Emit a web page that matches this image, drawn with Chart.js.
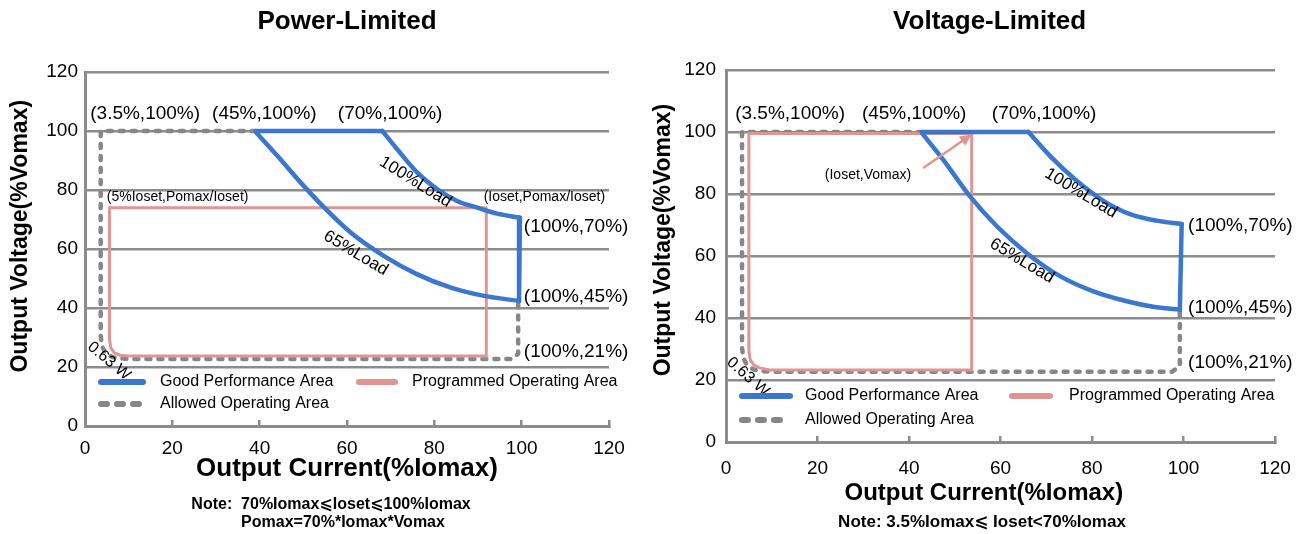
<!DOCTYPE html>
<html>
<head>
<meta charset="utf-8">
<script src="https://cdn.jsdelivr.net/npm/chart.js@4.4.1/dist/chart.umd.min.js"></script>
<style>
  html, body { margin: 0; padding: 0; background: #fff; }
  #wrap { position: relative; width: 1309px; height: 534px; overflow: hidden; }
  .box { position: absolute; top: 0; height: 534px; }
  #leftBox { left: 0; width: 640px; }
  #rightBox { left: 640px; width: 669px; }
</style>
</head>
<body>
<div id="wrap">
  <div class="box" id="leftBox"><canvas id="powerChart"></canvas></div>
  <div class="box" id="rightBox"><canvas id="voltageChart"></canvas></div>
</div>
<script>
// ---- Power-Limited data (I = %Iomax, V = %Vomax) ----
const plTopI = [39.1, 68.1];
const plTopV = [100, 100];
const plLoad100I = [68.1, 71.5, 76.1, 80.7, 85.3, 89.9, 94.4, 99.6];
const plLoad100V = [100, 93.8, 85.9, 80.2, 76.2, 74.0, 72.0, 70.6];
const plEdgeI = [99.6, 99.4];
const plEdgeV = [70.6, 42.4];
const plLoad65I = [39.1, 44.1, 49.4, 54.8, 60.9, 68.5, 76.1, 83.8, 91.4, 99.4];
const plLoad65V = [99.7, 91.5, 82.5, 74.0, 65.5, 57.6, 51.4, 46.9, 44.1, 42.4];
const plAllowedI = [39.1, 3.6, 3.6, 3.9, 4.7, 6.2, 8.2, 10.5, 97.7, 99.2, 99.2];
const plAllowedV = [100, 100, 30.5, 27, 24.8, 23.4, 22.9, 22.7, 22.7, 24.5, 43];
const plProgramI = [5.6, 5.6, 5.9, 6.7, 8, 10, 91.9, 91.9, 5.6];
const plProgramV = [74, 29.5, 26.5, 24.8, 24, 23.7, 23.7, 74, 74];

// ---- Voltage-Limited data ----
const vlTopI = [42.8, 66.1];
const vlTopV = [100, 100];
const vlLoad100I = [66.1, 70.8, 76.7, 82.5, 88.3, 94.1, 99.6];
const vlLoad100V = [100, 92.3, 84.2, 77.8, 73.5, 71.4, 70.3];
const vlEdgeI = [99.6, 99.2];
const vlEdgeV = [70.3, 42.7];
const vlLoad65I = [42.8, 47.5, 53.3, 59.2, 65.7, 73.0, 80.3, 87.6, 93.4, 99.2];
const vlLoad65V = [99.7, 91.0, 79.3, 69.6, 61.0, 53.5, 48.6, 45.4, 43.6, 42.7];
const vlAllowedI = [42.8, 3.5, 3.5, 3.8, 4.6, 6, 7.8, 9.8, 97.5, 99.2, 99.2];
const vlAllowedV = [100, 100, 30.5, 27, 24.8, 23.4, 22.9, 22.7, 22.7, 24.5, 43];
const vlProgramI = [5, 5, 5.3, 6.1, 7.4, 9.5, 53.7, 53.7, 5];
const vlProgramV = [99.5, 29.5, 26.5, 24.8, 23.9, 23.2, 23.2, 99.5, 99.5];
const vlArrowI = [43.1, 53.7];
const vlArrowV = [88.4, 99.2];

const axisMin = 0;
const axisMax = 120;
const axisStep = 20;

const FONT = "'Liberation Sans', Arial, 'DejaVu Sans', sans-serif";
const BLUE = '#3B77CF';
const PINK = '#DF9592';
const GRAY = '#878787';
const GRID = '#8C8C8C';

Chart.defaults.font.family = FONT;
Chart.defaults.color = '#000';

function pts(xs, ys) {
  return xs.map((x, i) => ({ x: x, y: ys[i] }));
}

function line(label, xs, ys, color, width, curved, dash) {
  return {
    label: label,
    data: pts(xs, ys),
    showLine: true,
    borderColor: color,
    backgroundColor: color,
    borderWidth: width,
    borderDash: dash || [],
    borderCapStyle: 'round',
    borderJoinStyle: 'round',
    pointRadius: 0,
    cubicInterpolationMode: curved ? 'monotone' : 'default',
    tension: 0,
    fill: false
  };
}

// draws the text notes, arrow, legend inside the plot
const figureText = {
  id: 'figureText',
  afterDatasetsDraw(chart, args, opts) {
    const ctx = chart.ctx;
    const xs = chart.scales.x;
    const ys = chart.scales.y;
    const area = chart.chartArea;
    ctx.save();

    if (opts.arrow) {
      const x1 = xs.getPixelForValue(opts.arrow.i[0]);
      const y1 = ys.getPixelForValue(opts.arrow.v[0]);
      const x2 = xs.getPixelForValue(opts.arrow.i[1]);
      const y2 = ys.getPixelForValue(opts.arrow.v[1]);
      const a = Math.atan2(y2 - y1, x2 - x1);
      ctx.strokeStyle = PINK;
      ctx.fillStyle = PINK;
      ctx.lineWidth = 2.5;
      ctx.beginPath();
      ctx.moveTo(x1, y1);
      ctx.lineTo(x2 - 8 * Math.cos(a), y2 - 8 * Math.sin(a));
      ctx.stroke();
      ctx.beginPath();
      ctx.moveTo(x2, y2);
      ctx.lineTo(x2 - 13 * Math.cos(a - 0.45), y2 - 13 * Math.sin(a - 0.45));
      ctx.lineTo(x2 - 13 * Math.cos(a + 0.45), y2 - 13 * Math.sin(a + 0.45));
      ctx.closePath();
      ctx.fill();
    }

    ctx.fillStyle = '#000';
    ctx.textBaseline = 'middle';
    for (const lb of opts.labels) {
      ctx.save();
      ctx.translate(xs.getPixelForValue(lb.i), ys.getPixelForValue(lb.v));
      ctx.rotate((lb.angle || 0) * Math.PI / 180);
      ctx.font = (lb.size || 19) + 'px ' + FONT;
      ctx.textAlign = lb.angle ? 'center' : 'left';
      ctx.fillText(lb.text, 0, 0);
      ctx.restore();
    }

    // legend
    const lg = opts.legend;
    ctx.font = '16px ' + FONT;
    ctx.textAlign = 'left';
    for (const it of lg.items) {
      const ds = chart.data.datasets.find(d => d.label === it.label);
      const y = area.bottom - it.up;
      ctx.save();
      ctx.strokeStyle = ds.borderColor;
      ctx.lineWidth = 6;
      ctx.lineCap = 'round';
      ctx.setLineDash(it.dash || []);
      ctx.beginPath();
      ctx.moveTo(area.left + it.x0, y);
      ctx.lineTo(area.left + it.x1, y);
      ctx.stroke();
      ctx.restore();
      ctx.fillText(it.label, area.left + it.tx, y);
    }

    // notes under the axis title
    ctx.font = 'bold ' + opts.noteSize + 'px ' + FONT;
    ctx.textAlign = 'center';
    for (const n of opts.notes) {
      ctx.fillText(n.text, n.x, n.y);
    }
    ctx.restore();
  }
};

function buildChart(id, s) {
  return new Chart(document.getElementById(id), {
    type: 'scatter',
    data: {
      datasets: [
        line('Good Performance Area', s.topI, s.topV, BLUE, 4.5, false),
        line('load100', s.load100I, s.load100V, BLUE, 4.5, true),
        line('edge', s.edgeI, s.edgeV, BLUE, 4.5, false),
        line('load65', s.load65I, s.load65V, BLUE, 4.5, true),
        line('Programmed Operating Area', s.programI, s.programV, PINK, 3, false),
        line('Allowed Operating Area', s.allowedI, s.allowedV, GRAY, 4.5, false, [4, 8])
      ]
    },
    options: {
      responsive: true,
      maintainAspectRatio: false,
      animation: false,
      layout: {
        autoPadding: false,
        padding: { left: 0, right: s.padRight, top: 0, bottom: s.padBottom }
      },
      plugins: {
        legend: { display: false },
        tooltip: { enabled: false },
        title: {
          display: true,
          text: s.title,
          fullSize: false,
          color: '#000',
          font: { size: 26, weight: 'bold' },
          padding: { top: 6.4, bottom: s.titleGap }
        },
        figureText: {
          labels: s.labels,
          arrow: s.arrow,
          notes: s.notes,
          noteSize: s.noteSize,
          legend: s.legend
        }
      },
      scales: {
        x: {
          type: 'linear',
          min: axisMin,
          max: axisMax,
          ticks: { stepSize: axisStep, color: '#000', font: { size: 19 }, padding: s.xTickPad },
          grid: { display: true, drawOnChartArea: false, drawTicks: true, tickLength: -6, color: GRID, lineWidth: 2.5 },
          border: { display: true, color: GRID, width: 3 },
          title: {
            display: true,
            text: s.xTitle,
            color: '#000',
            font: { size: s.xTitleSize, weight: 'bold' },
            padding: 0
          },
          afterFit(scale) {
            scale.height = s.xHeight;
            scale.paddingLeft = 0;
            scale.paddingRight = 0;
          }
        },
        y: {
          type: 'linear',
          min: axisMin,
          max: axisMax,
          ticks: { stepSize: axisStep, color: '#000', font: { size: 19 }, padding: s.yTickPad },
          grid: { color: GRID, lineWidth: 2.5, drawTicks: false },
          border: { display: true, color: GRID, width: 3 },
          title: {
            display: true,
            text: s.yTitle,
            color: '#000',
            font: { size: 23, weight: 'bold' },
            padding: { top: s.yTitlePad, bottom: 0 }
          },
          afterFit(scale) {
            scale.width = s.yWidth;
            scale.paddingTop = 0;
            scale.paddingBottom = 0;
          }
        }
      }
    },
    plugins: [figureText]
  });
}

buildChart('powerChart', {
  title: 'Power-Limited',
  xTitle: 'Output Current(%Iomax)',
  xTitleSize: 26,
  yTitle: '    Output Voltage(%Vomax)',
  topI: plTopI, topV: plTopV,
  load100I: plLoad100I, load100V: plLoad100V,
  edgeI: plEdgeI, edgeV: plEdgeV,
  load65I: plLoad65I, load65V: plLoad65V,
  programI: plProgramI, programV: plProgramV,
  allowedI: plAllowedI, allowedV: plAllowedV,
  padRight: 31, padBottom: 50, titleGap: 34.4,
  xHeight: 58, xTickPad: 17,
  yWidth: 85, yTickPad: 7, yTitlePad: 7.2,
  labels: [
    { text: '(3.5%,100%)', i: 1.2, v: 106 },
    { text: '(45%,100%)', i: 29.1, v: 106 },
    { text: '(70%,100%)', i: 57.9, v: 106 },
    { text: '(5%Ioset,Pomax/Ioset)', i: 5.0, v: 77.6, size: 14 },
    { text: '(Ioset,Pomax/Ioset)', i: 91.3, v: 77.6, size: 14 },
    { text: '(100%,70%)', i: 100.5, v: 67.5 },
    { text: '(100%,45%)', i: 100.5, v: 43.7 },
    { text: '(100%,21%)', i: 100.5, v: 25 },
    { text: '100%Load', i: 75.7, v: 82.7, angle: 32, size: 17 },
    { text: '65%Load', i: 62, v: 58.6, angle: 31, size: 17 },
    { text: '0.63 W', i: 5.5, v: 22, angle: 40, size: 16 }
  ],
  legend: {
    items: [
      { label: 'Good Performance Area', up: 44, x0: 16, x1: 58, tx: 75 },
      { label: 'Programmed Operating Area', up: 44, x0: 274, x1: 310, tx: 327 },
      { label: 'Allowed Operating Area', up: 22, x0: 16, x1: 58, tx: 75, dash: [6, 10] }
    ]
  },
  noteSize: 16,
  notes: [
    { text: 'Note:  70%Iomax⩽Ioset⩽100%Iomax', x: 331, y: 505 },
    { text: 'Pomax=70%*Iomax*Vomax', x: 343, y: 523 }
  ]
});

buildChart('voltageChart', {
  title: 'Voltage-Limited   ',
  xTitle: 'Output Current(%Iomax)     ',
  xTitleSize: 24,
  yTitle: '     Output Voltage(%Vomax)',
  topI: vlTopI, topV: vlTopV,
  load100I: vlLoad100I, load100V: vlLoad100V,
  edgeI: vlEdgeI, edgeV: vlEdgeV,
  load65I: vlLoad65I, load65V: vlLoad65V,
  programI: vlProgramI, programV: vlProgramV,
  allowedI: vlAllowedI, allowedV: vlAllowedV,
  padRight: 34, padBottom: 26, titleGap: 32.4,
  xHeight: 66, xTickPad: 21,
  yWidth: 86, yTickPad: 10, yTitlePad: 10.2,
  arrow: { i: vlArrowI, v: vlArrowV },
  labels: [
    { text: '(3.5%,100%)', i: 2.0, v: 105.8 },
    { text: '(45%,100%)', i: 29.7, v: 105.8 },
    { text: '(70%,100%)', i: 58.1, v: 105.8 },
    { text: '(Ioset,Vomax)', i: 21.6, v: 86.1, size: 14 },
    { text: '(100%,70%)', i: 101, v: 69.7 },
    { text: '(100%,45%)', i: 101, v: 43.2 },
    { text: '(100%,21%)', i: 101, v: 25.5 },
    { text: '100%Load', i: 77.6, v: 80.3, angle: 31, size: 17 },
    { text: '65%Load', i: 64.7, v: 58.4, angle: 31, size: 17 },
    { text: '0.63 W', i: 4.8, v: 21, angle: 41, size: 16 }
  ],
  legend: {
    items: [
      { label: 'Good Performance Area', up: 46, x0: 16, x1: 64, tx: 79 },
      { label: 'Programmed Operating Area', up: 46, x0: 286, x1: 324, tx: 343 },
      { label: 'Allowed Operating Area', up: 22, x0: 16, x1: 64, tx: 79, dash: [6, 10] }
    ]
  },
  noteSize: 17,
  notes: [
    { text: 'Note: 3.5%Iomax⩽ Ioset<70%Iomax', x: 342, y: 522 }
  ]
});
</script>
</body>
</html>
